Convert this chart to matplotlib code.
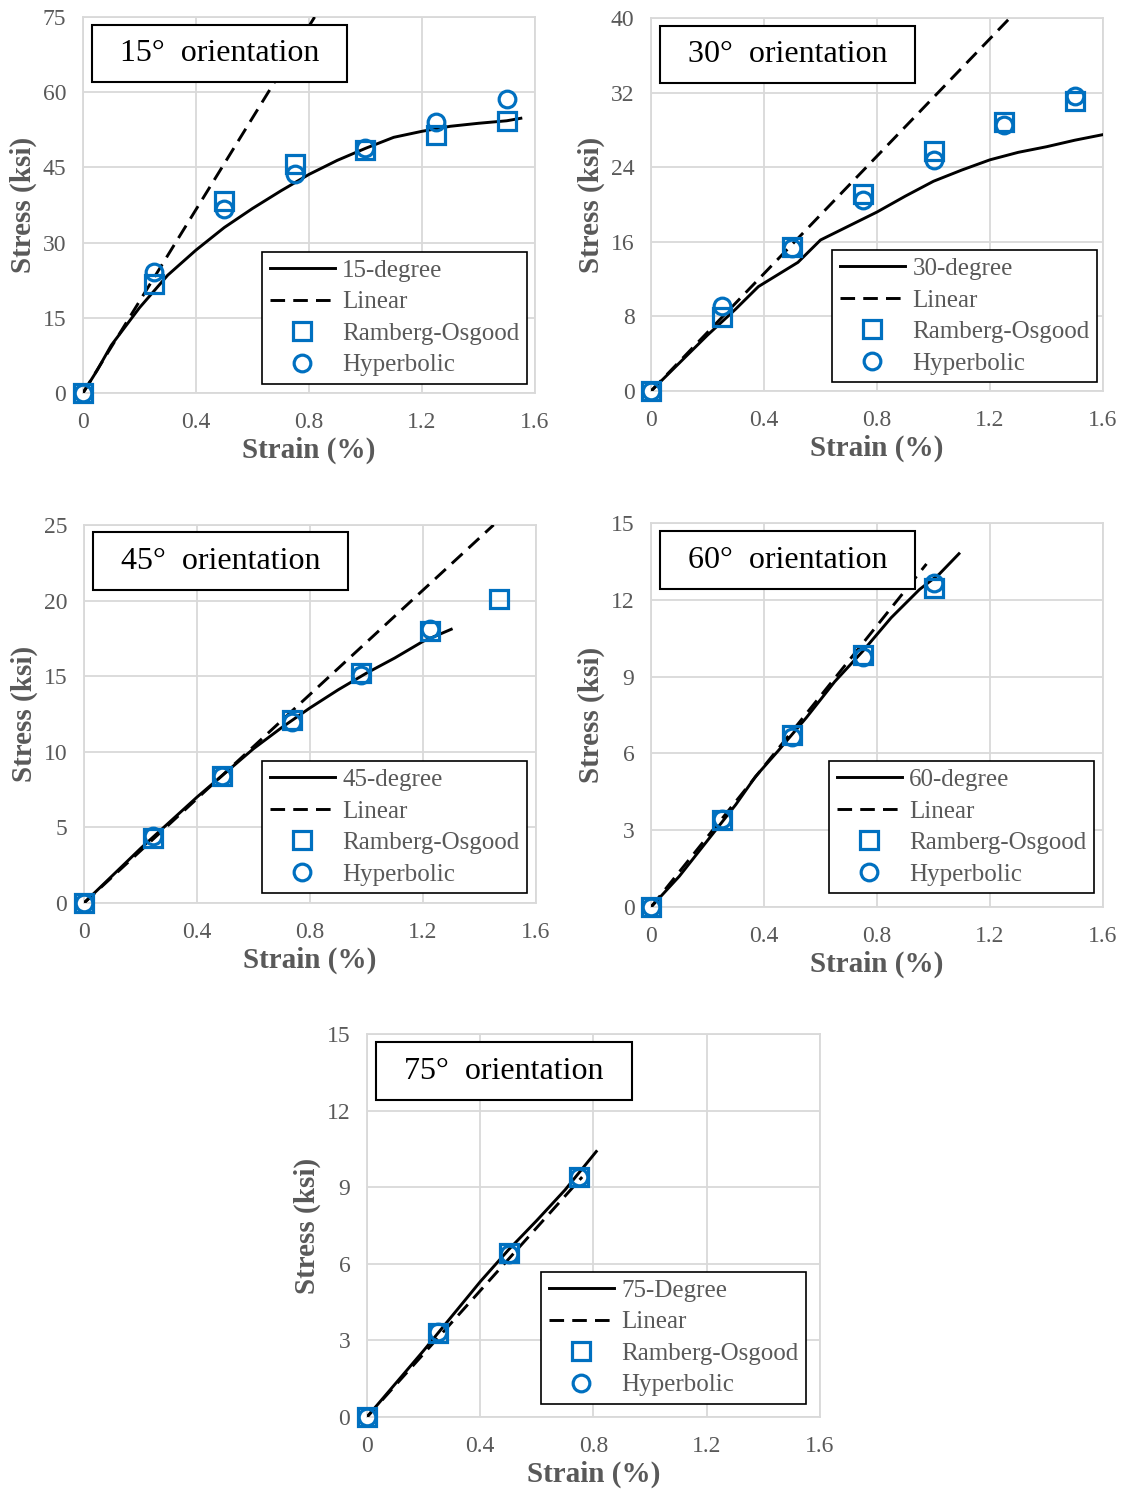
import matplotlib
matplotlib.use("Agg")
import matplotlib.pyplot as plt
from matplotlib.patches import Rectangle

plt.rcParams["font.family"] = ["Liberation Serif", "DejaVu Serif"]

BLUE = "#0070C0"
GREY_TEXT = "#595959"
GRID = "#D9D9D9"

XTICKS = [0, 0.4, 0.8, 1.2, 1.6]
XTICK_LABELS = ["0", "0.4", "0.8", "1.2", "1.6"]

# 15 degree
EXP_X_15 = [0, 0.05, 0.1, 0.2, 0.3, 0.4, 0.5, 0.6, 0.7, 0.8, 0.9, 1.0, 1.1, 1.2, 1.3, 1.4, 1.5, 1.55]
EXP_Y_15 = [0, 4.5, 9.5, 17.0, 23.5, 28.5, 33.0, 36.8, 40.3, 43.6, 46.4, 48.8, 51.0, 52.2, 53.2, 53.8, 54.3, 54.8]
LIN_X_15 = [0, 0.82]
LIN_Y_15 = [0, 75]
MOD_X_15 = [0, 0.25, 0.5, 0.75, 1.0, 1.25, 1.5]
RO_Y_15 = [0, 21.8, 38.3, 45.6, 48.4, 51.4, 54.3]
HYP_Y_15 = [0, 24.1, 36.7, 43.7, 48.9, 54.1, 58.6]

# 30 degree
EXP_X_30 = [0, 0.1, 0.2, 0.3, 0.38, 0.45, 0.52, 0.6, 0.7, 0.8, 0.9, 1.0, 1.1, 1.2, 1.3, 1.4, 1.5, 1.6]
EXP_Y_30 = [0, 3.0, 6.0, 8.8, 11.2, 12.5, 13.8, 16.2, 17.7, 19.2, 20.9, 22.5, 23.7, 24.8, 25.6, 26.2, 26.9, 27.5]
LIN_X_30 = [0, 1.27]
LIN_Y_30 = [0, 40]
MOD_X_30 = [0, 0.25, 0.5, 0.75, 1.0, 1.25, 1.5]
RO_Y_30 = [0, 7.9, 15.4, 21.1, 25.7, 28.9, 31.1]
HYP_Y_30 = [0, 9.1, 15.3, 20.5, 24.8, 28.5, 31.6]

# 45 degree
EXP_X_45 = [0, 0.1, 0.2, 0.3, 0.4, 0.5, 0.6, 0.7, 0.8, 0.9, 1.0, 1.1, 1.2, 1.3]
EXP_Y_45 = [0, 1.8, 3.6, 5.3, 7.0, 8.6, 10.2, 11.6, 12.9, 14.1, 15.2, 16.2, 17.3, 18.1]
LIN_X_45 = [0, 1.45]
LIN_Y_45 = [0, 25]
RO_X_45 = [0, 0.245, 0.49, 0.735, 0.98, 1.225, 1.47]
RO_Y_45 = [0, 4.3, 8.4, 12.1, 15.2, 18.0, 20.1]
HYP_X_45 = [0, 0.245, 0.49, 0.735, 0.98, 1.225]
HYP_Y_45 = [0, 4.4, 8.4, 12.0, 15.1, 18.1]

# 60 degree
EXP_X_60 = [0, 0.1, 0.2, 0.3, 0.37, 0.45, 0.55, 0.65, 0.75, 0.85, 0.95, 1.02, 1.09]
EXP_Y_60 = [0, 1.2, 2.6, 4.0, 5.1, 6.1, 7.4, 8.8, 10.0, 11.3, 12.4, 13.0, 13.8]
LIN_X_60 = [0, 0.975]
LIN_Y_60 = [0, 13.4]
MOD_X_60 = [0, 0.25, 0.5, 0.75, 1.0]
RO_Y_60 = [0, 3.39, 6.70, 9.84, 12.45]
HYP_Y_60 = [0, 3.45, 6.65, 9.78, 12.65]

# 75 degree
EXP_X_75 = [0, 0.1, 0.2, 0.3, 0.4, 0.5, 0.6, 0.7, 0.81]
EXP_Y_75 = [0, 1.3, 2.6, 3.95, 5.3, 6.55, 7.7, 8.9, 10.4]
LIN_X_75 = [0, 0.76]
LIN_Y_75 = [0, 9.4]
MOD_X_75 = [0, 0.25, 0.5, 0.75]
RO_Y_75 = [0, 3.31, 6.41, 9.41]
HYP_Y_75 = [0, 3.33, 6.40, 9.40]

# axes rectangles (figure fraction) and legend anchors (axes fraction)
PANELS = [
    dict(title="15° orientation", label="15-degree", rect=[0.0737, 0.7368, 0.4014, 0.2518],
         ylim=75, ystep=15, exp=(EXP_X_15, EXP_Y_15), lin=(LIN_X_15, LIN_Y_15),
         ro=(MOD_X_15, RO_Y_15), hyp=(MOD_X_15, HYP_Y_15), leg=(0.982, 0.024)),
    dict(title="30° orientation", label="30-degree", rect=[0.5782, 0.7381, 0.4014, 0.2498],
         ylim=40, ystep=8, exp=(EXP_X_30, EXP_Y_30), lin=(LIN_X_30, LIN_Y_30),
         ro=(MOD_X_30, RO_Y_30), hyp=(MOD_X_30, HYP_Y_30), leg=(0.987, 0.024)),
    dict(title="45° orientation", label="45-degree", rect=[0.0746, 0.3952, 0.4014, 0.2532],
         ylim=25, ystep=5, exp=(EXP_X_45, EXP_Y_45), lin=(LIN_X_45, LIN_Y_45),
         ro=(RO_X_45, RO_Y_45), hyp=(HYP_X_45, HYP_Y_45), leg=(0.98, 0.026)),
    dict(title="60° orientation", label="60-degree", rect=[0.5782, 0.3925, 0.4014, 0.2572],
         ylim=15, ystep=3, exp=(EXP_X_60, EXP_Y_60), lin=(LIN_X_60, LIN_Y_60),
         ro=(MOD_X_60, RO_Y_60), hyp=(MOD_X_60, HYP_Y_60), leg=(0.98, 0.036)),
    dict(title="75° orientation", label="75-Degree", rect=[0.3259, 0.0509, 0.4023, 0.2565],
         ylim=15, ystep=3, exp=(EXP_X_75, EXP_Y_75), lin=(LIN_X_75, LIN_Y_75),
         ro=(MOD_X_75, RO_Y_75), hyp=(MOD_X_75, HYP_Y_75), leg=(0.969, 0.034)),
]


def draw_panel(fig, p):
    ax = fig.add_axes(p["rect"])
    ax.plot(*p["exp"], color="black", lw=2.1, label=p["label"], zorder=3)
    ax.plot(*p["lin"], color="black", lw=2.1, ls=(0, (5, 2.8)), label="Linear", zorder=3)
    ax.plot(*p["ro"], ls="none", marker="s", ms=13, mfc="none", mec=BLUE, mew=2.3,
            label="Ramberg-Osgood", zorder=4, clip_on=False)
    ax.plot(*p["hyp"], ls="none", marker="o", ms=12, mfc="none", mec=BLUE, mew=2.3,
            label="Hyperbolic", zorder=4, clip_on=False)

    ax.set_xlim(0, 1.6)
    ax.set_ylim(0, p["ylim"])
    ax.set_xticks(XTICKS)
    ax.set_xticklabels(XTICK_LABELS)
    yt = list(range(0, p["ylim"] + 1, p["ystep"]))
    ax.set_yticks(yt)
    ax.set_yticklabels([str(v) for v in yt])
    ax.tick_params(length=0, labelsize=17, colors=GREY_TEXT)
    ax.tick_params(axis="x", pad=14)
    ax.tick_params(axis="y", pad=12)
    ax.grid(True, color=GRID, lw=1.3)
    ax.set_axisbelow(True)
    for sp in ax.spines.values():
        sp.set_color(GRID)
        sp.set_linewidth(1.3)

    ax.set_xlabel("Strain (%)", fontsize=21, fontweight="bold", color=GREY_TEXT, labelpad=2)
    ax.set_ylabel("Stress (ksi)", fontsize=21, fontweight="bold", color=GREY_TEXT, labelpad=4)

    # title box on top of the curves
    ax.add_patch(Rectangle((0.02, 0.827), 0.565, 0.153, transform=ax.transAxes,
                           facecolor="white", edgecolor="black", lw=1.5, zorder=6))
    ax.text(0.3025, 0.9035, p["title"].replace("° ", "°  "), transform=ax.transAxes,
            ha="center", va="center", fontsize=23, color="black", zorder=7)

    leg = ax.legend(loc="lower right", bbox_to_anchor=p["leg"], fontsize=18,
                    frameon=True, fancybox=False, framealpha=1, edgecolor="black",
                    borderpad=0.3, labelspacing=0.36, handlelength=2.6,
                    handletextpad=0.3, borderaxespad=0)
    leg.get_frame().set_linewidth(1.2)
    leg.set_zorder(8)
    for t in leg.get_texts():
        t.set_color(GREY_TEXT)
    return ax


fig = plt.figure(figsize=(11.26, 14.93), dpi=100)
for panel in PANELS:
    draw_panel(fig, panel)
fig.savefig("out.png", dpi=100)
